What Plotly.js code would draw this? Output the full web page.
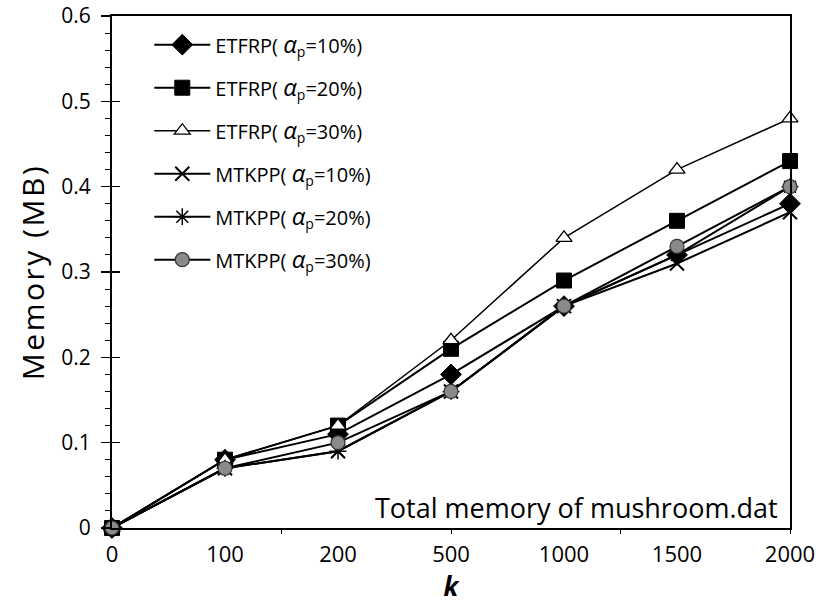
<!DOCTYPE html>
<html>
<head>
<meta charset="utf-8">
<script src="https://cdn.plot.ly/plotly-3.0.1.min.js"></script>
<style>
  html, body { margin: 0; padding: 0; background: #fff; }
  #chart { width: 822px; height: 608px; }
  #chart .ytitle { letter-spacing: 2.5px; }
</style>
</head>
<body>
<div id="chart"></div>
<script>
// k values (categorical x axis)
const kValues = ['0', '100', '200', '500', '1000', '1500', '2000'];

// Memory usage (MB) per method and support threshold
const etfrp10 = [0, 0.08, 0.11, 0.18, 0.26, 0.32, 0.38];
const etfrp20 = [0, 0.08, 0.12, 0.21, 0.29, 0.36, 0.43];
const etfrp30 = [0, 0.08, 0.12, 0.22, 0.34, 0.42, 0.48];
const mtkpp10 = [0, 0.07, 0.09, 0.16, 0.26, 0.31, 0.37];
const mtkpp20 = [0, 0.07, 0.09, 0.16, 0.26, 0.32, 0.40];
const mtkpp30 = [0, 0.07, 0.10, 0.16, 0.26, 0.33, 0.40];

const ALPHA = '<span style="font-size:24px"><i>α</i></span><sub>p</sub>';
const seriesNames = [
  'ETFRP( ' + ALPHA + '=10%)',
  'ETFRP( ' + ALPHA + '=20%)',
  'ETFRP( ' + ALPHA + '=30%)',
  'MTKPP( ' + ALPHA + '=10%)',
  'MTKPP( ' + ALPHA + '=20%)',
  'MTKPP( ' + ALPHA + '=30%)'
];

const FONT = '"Open Sans", Lato, sans-serif';

function series(y, name, group, marker, lineWidth) {
  return {
    x: kValues, y: y, name: name, legendgroup: group,
    type: 'scatter', mode: 'lines+markers',
    line: { color: '#000', width: lineWidth },
    marker: marker, cliponaxis: false
  };
}

const traces = [
  series(etfrp10, seriesNames[0], 'g1', { symbol: 'diamond', size: 16, color: '#000', line: { color: '#000', width: 1 } }, 2),
  series(etfrp20, seriesNames[1], 'g2', { symbol: 'square', size: 15, color: '#000', line: { color: '#000', width: 1 } }, 2),
  series(etfrp30, seriesNames[2], 'g3', { symbol: 'triangle-up', size: 14, color: '#fff', line: { color: '#000', width: 1.3 } }, 1.5),
  series(mtkpp10, seriesNames[3], 'g4', { symbol: 'x-thin-open', size: 14, color: '#000', line: { color: '#000', width: 2 } }, 2),
  series(mtkpp20, seriesNames[4], 'g5', { symbol: 'asterisk-open', size: 14, color: '#000', line: { color: '#000', width: 1.5 } }, 2),
  series(mtkpp30, seriesNames[5], 'g6', { symbol: 'circle', size: 14, color: '#8a8a8a', line: { color: '#333', width: 1.2 } }, 2),
  // empty trace that carries the overlay axes used for extra tick marks
  { x: [null], y: [null], xaxis: 'x2', yaxis: 'y2', type: 'scatter', mode: 'markers',
    showlegend: false, hoverinfo: 'skip' }
];

const layout = {
  width: 822, height: 608,
  margin: { l: 112, r: 32, t: 16, b: 80 },
  paper_bgcolor: '#fff', plot_bgcolor: '#fff',
  font: { family: FONT, size: 20, color: '#000' },
  showlegend: true,
  legend: {
    x: 0.055, y: 0.982, xanchor: 'left', yanchor: 'top',
    bgcolor: 'rgba(0,0,0,0)', borderwidth: 0,
    font: { family: FONT, size: 20, color: '#000' },
    tracegroupgap: 14, itemwidth: 56
  },
  xaxis: {
    type: 'category', range: [0, 6],
    showgrid: false, zeroline: false,
    showline: true, linecolor: '#000', linewidth: 2, mirror: true,
    ticks: '', ticklabelstandoff: 6,
    tickfont: { family: FONT, size: 22 },
    title: { text: '<b><i>k</i></b>', font: { family: FONT, size: 26 }, standoff: 2 }
  },
  xaxis2: {
    overlaying: 'x', anchor: 'y2', range: [0, 6], type: 'linear',
    tickvals: [1.5, 3, 4.5, 6], ticks: 'outside', ticklen: 5, tickwidth: 1, tickcolor: '#000',
    showticklabels: false, showgrid: false, zeroline: false, showline: false
  },
  yaxis: {
    range: [0, 0.6], dtick: 0.1, tick0: 0,
    showgrid: false, zeroline: false,
    showline: true, linecolor: '#000', linewidth: 2, mirror: true,
    ticks: 'outside', ticklen: 9, tickwidth: 1.5, tickcolor: '#000',
    minor: { dtick: 0.02, ticks: 'outside', ticklen: 5, tickwidth: 1, tickcolor: '#000' },
    tickfont: { family: FONT, size: 21 },
    ticklabelstandoff: 6, ticklabeloverflow: 'allow',
    title: { text: 'Memory (MB)', font: { family: FONT, size: 30 }, standoff: 8 }
  },
  yaxis2: {
    overlaying: 'y', anchor: 'x2', range: [0, 0.6], dtick: 0.1, tick0: 0,
    ticks: 'inside', ticklen: 8, tickwidth: 1.5, tickcolor: '#000',
    showticklabels: false, showgrid: false, zeroline: false, showline: false
  },
  annotations: [{
    xref: 'paper', yref: 'paper', x: 0.985, y: 0.0, xanchor: 'right', yanchor: 'bottom',
    text: 'Total memory of mushroom.dat', showarrow: false,
    font: { family: FONT, size: 27, color: '#000' }
  }]
};

Plotly.newPlot('chart', traces, layout, { displayModeBar: false, staticPlot: true });
</script>
</body>
</html>
